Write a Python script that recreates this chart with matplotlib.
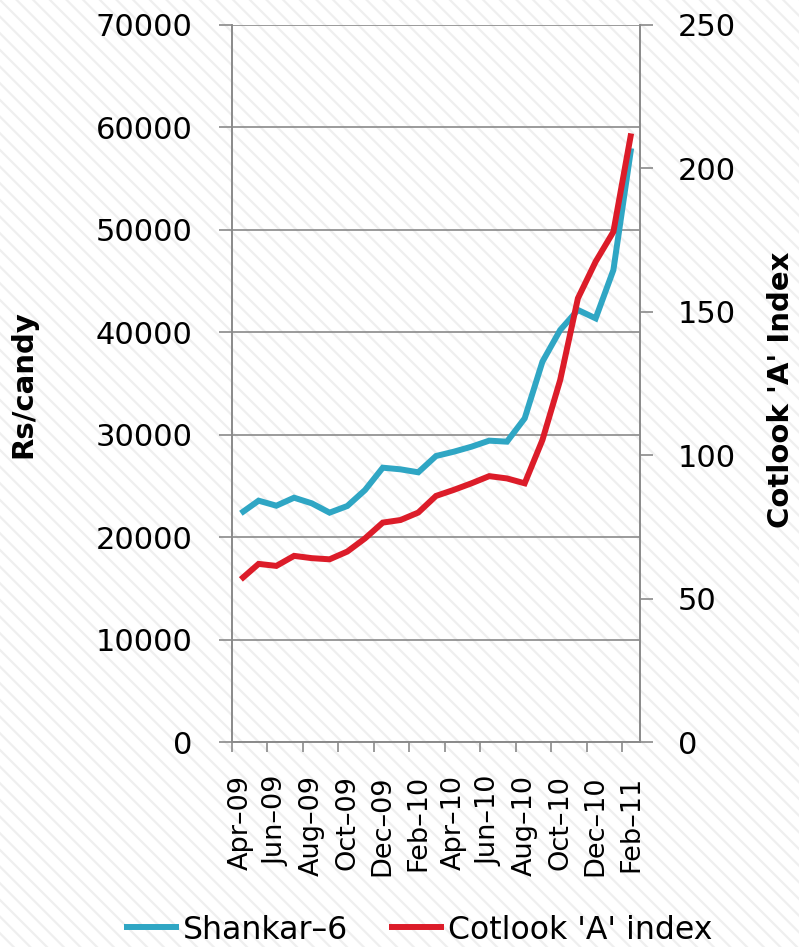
import numpy as np
import matplotlib
matplotlib.use("Agg")
import matplotlib.pyplot as plt
from matplotlib.patches import Rectangle

# monthly data, Apr-09 .. Feb-11
months = ["Apr-09", "May-09", "Jun-09", "Jul-09", "Aug-09", "Sep-09", "Oct-09",
          "Nov-09", "Dec-09", "Jan-10", "Feb-10", "Mar-10", "Apr-10", "May-10",
          "Jun-10", "Jul-10", "Aug-10", "Sep-10", "Oct-10", "Nov-10", "Dec-10",
          "Jan-11", "Feb-11"]
shankar6 = [22330, 23560, 23070, 23850, 23300, 22390, 23040, 24600, 26780, 26620,
            26330, 27920, 28340, 28830, 29420, 29320, 31600, 37130, 40220, 42180,
            41360, 46080, 57960]
cotlook_a = [56.7, 62.1, 61.4, 64.9, 64.1, 63.7, 66.4, 71.0, 76.5, 77.4, 80.0,
             85.8, 87.9, 90.2, 92.7, 91.9, 90.2, 105.3, 126.2, 154.7, 167.5,
             177.9, 212.2]

left_ticks = [0, 10000, 20000, 30000, 40000, 50000, 60000, 70000]
right_ticks = [0, 50, 100, 150, 200, 250]

BLUE = "#2fa6c4"
RED = "#dc1c29"
GRAY = "#8a8a8a"
FONT = "DejaVu Sans"

plt.rcParams["font.family"] = FONT
plt.rcParams["hatch.linewidth"] = 1.6

fig = plt.figure(figsize=(7.99, 9.47), dpi=100, facecolor="white")
# light diagonal stripes behind everything
fig.patches.append(Rectangle((0, 0), 1, 1, transform=fig.transFigure,
                             facecolor="white", edgecolor="#efefef",
                             hatch="\\\\", linewidth=0, zorder=-10))

ax = fig.add_axes([232 / 799, 1 - 742 / 947, 408 / 799, 717 / 947])
ax.set_facecolor("none")
ax2 = ax.twinx()

x = np.arange(len(months))
ax.plot(x, shankar6, color=BLUE, lw=4.3, solid_joinstyle="miter",
        solid_capstyle="butt", label="Shankar-6", zorder=3)
ax2.plot(x, cotlook_a, color=RED, lw=4.3, solid_joinstyle="miter",
         solid_capstyle="butt", label="Cotlook 'A' index", zorder=3)

ax.set_xlim(-0.5, len(months) - 0.5)
ax.set_ylim(0, 70000)
ax2.set_ylim(0, 250)

ax.set_yticks(left_ticks)
ax.set_yticklabels([str(v) for v in left_ticks])
ax2.set_yticks(right_ticks)
ax2.set_yticklabels([str(v) for v in right_ticks])

ax.yaxis.grid(True, color=GRAY, lw=1.2)
ax.set_axisbelow(True)

# category axis: tick marks between categories, labels centred on categories
ax.set_xticks(np.arange(-0.5, len(months) - 1, 2))
ax.set_xticklabels([])
ax.set_xticks(x[::2], minor=True)
ax.set_xticklabels([m.replace("-", "\u2013") for m in months[::2]], minor=True,
                   rotation=90, fontsize=19.5, va="top", ha="center")
ax.tick_params(axis="x", which="major", direction="out", length=7,
               width=1.2, color=GRAY)
ax.tick_params(axis="x", which="minor", length=0, pad=24)

ax.tick_params(axis="y", direction="out", length=9.5, width=1.2, color=GRAY,
               labelsize=22, pad=19)
ax2.tick_params(axis="y", direction="out", length=9, width=1.2, color=GRAY,
                labelsize=22, pad=18)

for a in (ax, ax2):
    a.spines["top"].set_visible(False)
    for s in ("left", "right", "bottom"):
        a.spines[s].set_color(GRAY)
        a.spines[s].set_linewidth(1.2)

fig.text(23 / 799, 1 - 384 / 947, "Rs/candy", rotation=90, fontsize=21,
         fontweight="bold", ha="center", va="center")
fig.text(781 / 799, 1 - 390 / 947, "Cotlook 'A' Index", rotation=90,
         fontsize=21, fontweight="bold", ha="center", va="center")

handles = ax.get_lines() + ax2.get_lines()
fig.legend(handles, ["Shankar\u20136", "Cotlook 'A' index"], loc="center",
           bbox_to_anchor=(418 / 799, 1 - 930 / 947), ncol=2, frameon=False,
           fontsize=22.7, handlelength=1.75, handletextpad=0.12,
           columnspacing=1.3, borderpad=0)

fig.savefig("out.png", dpi=100, facecolor="white")
